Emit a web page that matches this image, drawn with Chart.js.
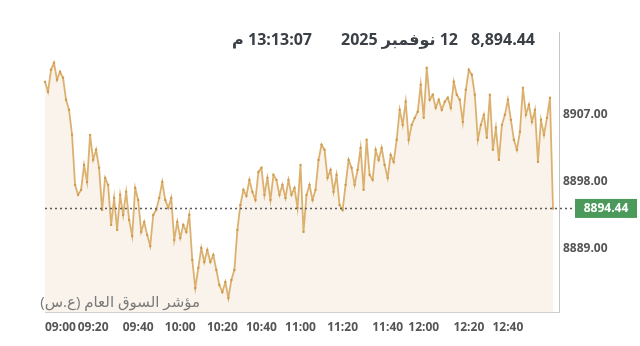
<!DOCTYPE html>
<html lang="ar">
<head>
<meta charset="utf-8">
<script src="https://cdn.jsdelivr.net/npm/chart.js@4.4.1/dist/chart.umd.min.js"></script>
<style>
  html, body { margin: 0; padding: 0; background: #fff; }
  #wrap { position: relative; width: 640px; height: 346px; }
</style>
</head>
<body>
<div id="wrap"><canvas id="indexChart"></canvas></div>
<script>
// time of each sample (category axis)
const times = [
  '09:00','09:01','09:02','09:04','09:05','09:06','09:07','09:09','09:10','09:11','09:12','09:14','09:15','09:16','09:17','09:19',
  '09:20','09:21','09:22','09:24','09:25','09:26','09:28','09:29','09:30','09:32','09:33','09:34','09:36','09:37','09:38',
  '09:40','09:41','09:42','09:44','09:45','09:47','09:48','09:50','09:51','09:52','09:54','09:55','09:57','09:58',
  '10:00','10:01','10:02','10:04','10:05','10:07','10:08','10:10','10:11','10:12','10:14','10:15','10:17','10:18',
  '10:20','10:21','10:23','10:24','10:26','10:27','10:29','10:30','10:32','10:33','10:35','10:36','10:38',
  '10:40','10:41','10:43','10:44','10:46','10:47','10:49','10:50','10:52','10:53','10:55','10:56','10:58',
  '11:00','11:01','11:02','11:04','11:05','11:07','11:08','11:10','11:11','11:12','11:14','11:15','11:17','11:18',
  '11:20','11:21','11:22','11:24','11:25','11:26','11:28','11:29','11:30','11:32','11:33','11:34','11:36','11:37','11:38',
  '11:40','11:41','11:43','11:45','11:46','11:48','11:50','11:51','11:53','11:55','11:56','11:58',
  '12:00','12:01','12:02','12:04','12:05','12:06','12:08','12:09','12:10','12:12','12:13','12:14','12:16','12:17','12:18',
  '12:20','12:21','12:23','12:24','12:26','12:27','12:29','12:30','12:32','12:33','12:35','12:36','12:38',
  '12:40','12:41','12:42','12:43','12:44','12:45','12:47','12:48','12:49','12:50','12:51','12:52','12:53','12:54','12:55','12:57','12:58','12:59'
];

// index level (last two slots are empty)
const prices = [
  8911.42, 8910.08, 8913.03, 8913.97, 8911.69, 8912.77, 8911.96, 8909.01, 8907.66, 8904.31,
  8897.60, 8896.26, 8896.93, 8900.28, 8898.00, 8904.31, 8900.95, 8902.30, 8899.88, 8894.24,
  8898.54, 8897.60, 8892.23, 8895.85, 8891.56, 8896.26, 8893.57, 8896.66, 8892.90, 8890.75,
  8897.19, 8895.58, 8891.29, 8892.63, 8890.89, 8889.41, 8893.57, 8894.24, 8895.85, 8898.00,
  8895.58, 8894.51, 8895.85, 8890.21, 8892.63, 8890.48, 8892.23, 8891.29, 8893.57, 8887.53,
  8883.77, 8886.46, 8889.14, 8887.26, 8888.87, 8887.26, 8888.20, 8886.19, 8884.17, 8883.23,
  8884.58, 8882.43, 8884.85, 8886.19, 8891.56, 8894.91, 8896.93, 8896.12, 8898.27, 8896.66,
  8895.58, 8899.34, 8899.88, 8896.26, 8898.54, 8895.58, 8898.94, 8898.27, 8896.26, 8897.60,
  8895.85, 8898.27, 8896.26, 8897.19, 8894.51, 8900.28, 8891.29, 8896.26, 8897.60, 8895.58,
  8896.93, 8900.95, 8902.97, 8902.30, 8898.54, 8899.61, 8896.66, 8898.94, 8894.91, 8894.24,
  8897.60, 8900.95, 8899.88, 8897.60, 8899.61, 8902.56, 8896.93, 8903.64, 8898.94, 8898.27,
  8902.30, 8900.95, 8902.56, 8900.28, 8898.54, 8901.62, 8900.68, 8903.64, 8907.66, 8905.65,
  8908.74, 8903.64, 8905.65, 8906.59, 8907.40, 8911.02, 8906.59, 8913.30, 8909.01, 8909.68,
  8907.93, 8909.01, 8907.66, 8908.74, 8909.28, 8907.93, 8911.42, 8909.68, 8909.01, 8906.05,
  8910.35, 8913.03, 8912.36, 8909.68, 8903.64, 8905.65, 8906.99, 8903.91, 8909.68, 8902.30,
  8905.25, 8900.95, 8905.65, 8906.99, 8909.01, 8906.32, 8903.64, 8902.30, 8904.71, 8910.62,
  8906.99, 8908.34, 8906.05, 8907.66, 8900.68, 8906.32, 8904.31, 8906.59, 8909.28, 8894.44,
  null, null
];

const yTicks = [8889, 8898, 8907];
const lastPrice = 8894.44;
const headerPrice = '8,894.44';
const headerDate = '12 نوفمبر 2025';
const headerTime = '13:13:07 م';
const indexName = 'مؤشر السوق العام (ع.س)';

const fontFamily = "'Open Sans', 'DejaVu Sans', sans-serif";

// dotted last-price line, price tag, header and index name
const overlayPlugin = {
  id: 'overlay',
  afterDatasetsDraw(chart) {
    const { ctx, chartArea, scales } = chart;
    const y = Math.round(scales.y.getPixelForValue(lastPrice)) + 0.5;
    ctx.save();
    ctx.strokeStyle = '#5a5a5a';
    ctx.lineWidth = 1.5;
    ctx.setLineDash([2, 3]);
    ctx.beginPath();
    ctx.moveTo(chartArea.left, y);
    ctx.lineTo(chartArea.right + 16, y);
    ctx.stroke();
    ctx.restore();
  },
  afterDraw(chart) {
    const { ctx, chartArea, scales } = chart;
    const y = scales.y.getPixelForValue(lastPrice);
    ctx.save();

    // green price tag
    ctx.fillStyle = '#4b9a5b';
    ctx.fillRect(chartArea.right + 16, y - 9.5, 62, 19);
    ctx.fillStyle = '#ffffff';
    ctx.font = 'bold 12px ' + fontFamily;
    ctx.textAlign = 'center';
    ctx.textBaseline = 'middle';
    ctx.fillText(lastPrice.toFixed(2), chartArea.right + 47, y + 0.5);

    // header
    ctx.fillStyle = '#3b4047';
    ctx.font = 'bold 16px ' + fontFamily;
    ctx.textAlign = 'right';
    ctx.fillText(headerPrice, 535, 40);
    ctx.direction = 'rtl';
    ctx.fillText(headerDate, 458, 40);
    ctx.fillText(headerTime, 312, 40);

    // index name, bottom left of the plot
    ctx.fillStyle = '#7a7a7a';
    ctx.font = '15px ' + fontFamily;
    ctx.fillText(indexName, 200, 303);
    ctx.restore();
  }
};

const ctx = document.getElementById('indexChart').getContext('2d');
new Chart(ctx, {
  type: 'line',
  data: {
    labels: times,
    datasets: [{
      data: prices,
      borderColor: 'rgba(214, 164, 88, 0.85)',
      borderWidth: 1.8,
      backgroundColor: '#f9f3ec',
      fill: 'start',
      pointRadius: 1.2,
      pointBorderWidth: 0,
      pointBackgroundColor: 'rgba(205, 150, 70, 0.9)',
      tension: 0,
      spanGaps: false
    }]
  },
  options: {
    responsive: true,
    maintainAspectRatio: false,
    animation: false,
    layout: { padding: { left: 45, top: 32, right: 0, bottom: 0 } },
    plugins: {
      legend: { display: false },
      tooltip: { enabled: false }
    },
    scales: {
      x: {
        type: 'category',
        offset: false,
        grid: { display: false, drawTicks: false },
        border: { display: true, color: '#cfcfcf' },
        ticks: {
          autoSkip: false,
          maxRotation: 0,
          align: 'inner',
          padding: 8,
          color: '#555',
          font: { family: fontFamily, size: 12, weight: 'bold' },
          callback: (value, index) => {
            const t = times[index];
            if (!t) return '';
            const prev = index > 0 ? times[index - 1] : null;
            return (t !== prev && Number(t.slice(3)) % 20 === 0) ? t : '';
          }
        },
        afterFit: scale => { scale.height = 34; }
      },
      y: {
        position: 'right',
        min: 8880.55,
        max: 8918.1,
        grid: { display: false, drawTicks: false },
        border: { display: true, color: '#c4c4c4' },
        afterBuildTicks: scale => { scale.ticks = yTicks.map(v => ({ value: v })); },
        ticks: {
          padding: 4,
          color: '#555',
          font: { family: fontFamily, size: 12, weight: 'bold' },
          callback: v => Number(v).toFixed(2)
        },
        afterFit: scale => { scale.width = 81; }
      }
    }
  },
  plugins: [overlayPlugin]
});
</script>
</body>
</html>
